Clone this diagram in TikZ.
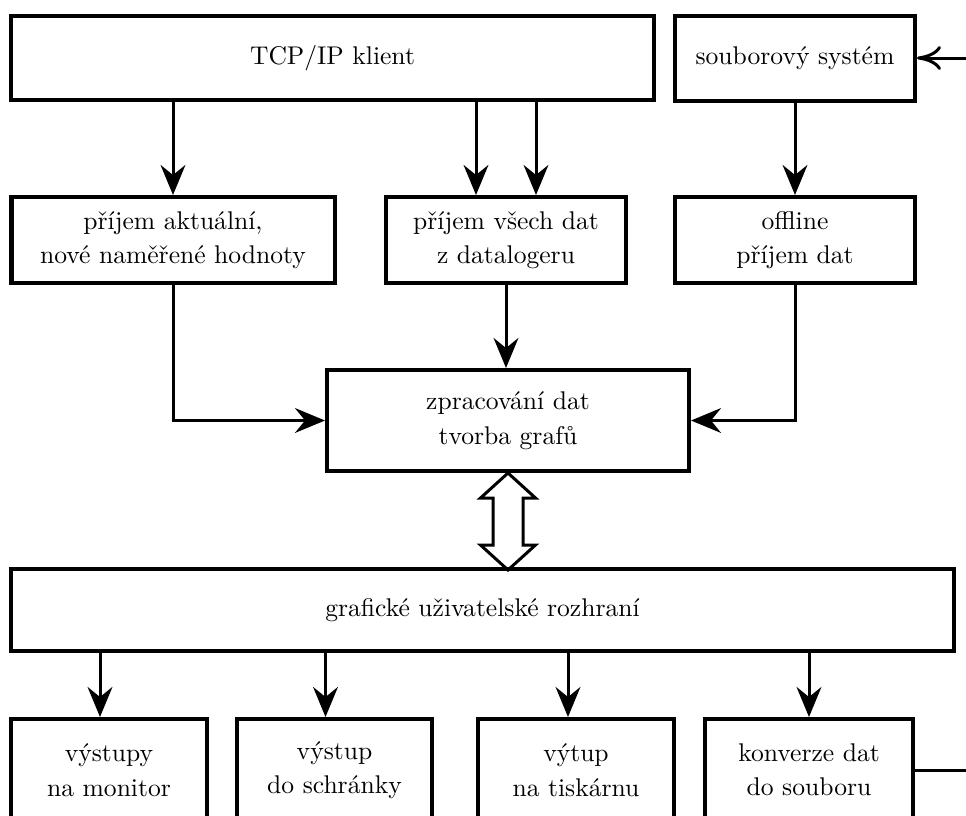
\documentclass[tikz,border=0pt]{standalone}
\usepackage{fontspec}
\setmainfont{lmroman10-regular.otf}
\usepackage{tikz}
\usetikzlibrary{calc, positioning, arrows.meta}

\begin{document}
\begin{tikzpicture}[blok/.style={draw, rectangle, line width=0.1cm, align=center, inner sep=2pt, font=\fontsize{18.2}{24.5}\selectfont},arr/.style={-{Stealth[length=0.75cm, width=0.62cm, inset=0.25cm]}, line width=0.075cm},vstup/.style={-{To[length=0.6cm, width=0.6cm]}, line width=0.075cm}]
  \useasboundingbox (0,0) rectangle (24.15,-20.4);

  \node[blok, minimum width=16.075cm, minimum height=2.1cm] (tcp) at (8.3125,-1.45) {TCP/IP klient};
  \node[blok, minimum width=6cm, minimum height=2.125cm] (soub) at (19.875,-1.45) {souborový systém};

  \node[blok, minimum width=8.075cm, minimum height=2.15cm] (akt) at (4.325,-6) {příjem aktuální,\\nové naměřené hodnoty};
  \node[blok, minimum width=6cm, minimum height=2.15cm] (vse) at (12.65,-6) {příjem všech dat\\z datalogeru};
  \node[blok, minimum width=6cm, minimum height=2.15cm] (off) at (19.875,-6) {offline\\příjem dat};

  \node[blok, minimum width=9.05cm, minimum height=2.525cm] (zpr) at (12.7,-10.5125) {zpracování dat\\tvorba grafů};

  \node[blok, minimum width=23.575cm, minimum height=2.05cm] (gui) at (12.0625,-15.25) {grafické uživatelské rozhraní};

  \node[blok, minimum width=4.9cm, minimum height=2.55cm] (mon) at (2.725,-19.25) {výstupy\\na monitor};
  \node[blok, minimum width=4.875cm, minimum height=2.55cm] (schr) at (8.3625,-19.25) {výstup\\do schránky};
  \node[blok, minimum width=4.9cm, minimum height=2.55cm] (tisk) at (14.4,-19.25) {výtup\\na tiskárnu};
  \node[blok, minimum width=5.2cm, minimum height=2.55cm] (konv) at (20.225,-19.25) {konverze dat\\do souboru};

  \coordinate (zvenku) at (24.15,-1.45);
  \coordinate (ven) at (24.15,-19.25);

  % horni cast
  \draw[vstup] (zvenku) -- (soub.east);
  \draw[arr] (tcp.south -| akt.north) -- (akt.north);
  \draw[arr] ([xshift=-0.75cm]tcp.south -| vse.north) -- ([xshift=-0.75cm]vse.north);
  \draw[arr] ([xshift=0.75cm]tcp.south -| vse.north) -- ([xshift=0.75cm]vse.north);
  \draw[arr] (soub.south) -- (off.north);

  \draw[arr] (akt.south) |- (zpr.west);
  \draw[arr] (vse.south) -- (vse.south |- zpr.north);
  \draw[arr] (off.south) |- (zpr.east);

  % obousmerna sipka
  \coordinate (hore) at (zpr.south);
  \draw[line width=0.075cm, line join=miter] (hore) -- ++(0.6875,-0.625) -- ++(-0.3125,0) -- ++(0,-1.175) -- ++(0.3125,0) -- ++(-0.6875,-0.625) -- ++(-0.6875,0.625) -- ++(0.3125,0) -- ++(0,1.175) -- ++(-0.3125,0) -- cycle;

  % spodni cast
  \draw[arr] ([xshift=-0.225cm]gui.south -| mon.north) -- ([xshift=-0.225cm]mon.north);
  \draw[arr] ([xshift=-0.225cm]gui.south -| schr.north) -- ([xshift=-0.225cm]schr.north);
  \draw[arr] ([xshift=-0.2cm]gui.south -| tisk.north) -- ([xshift=-0.2cm]tisk.north);
  \draw[arr] (gui.south -| konv.north) -- (konv.north);
  \draw[line width=0.075cm] (konv.east) -- (ven);
\end{tikzpicture}
\end{document}
